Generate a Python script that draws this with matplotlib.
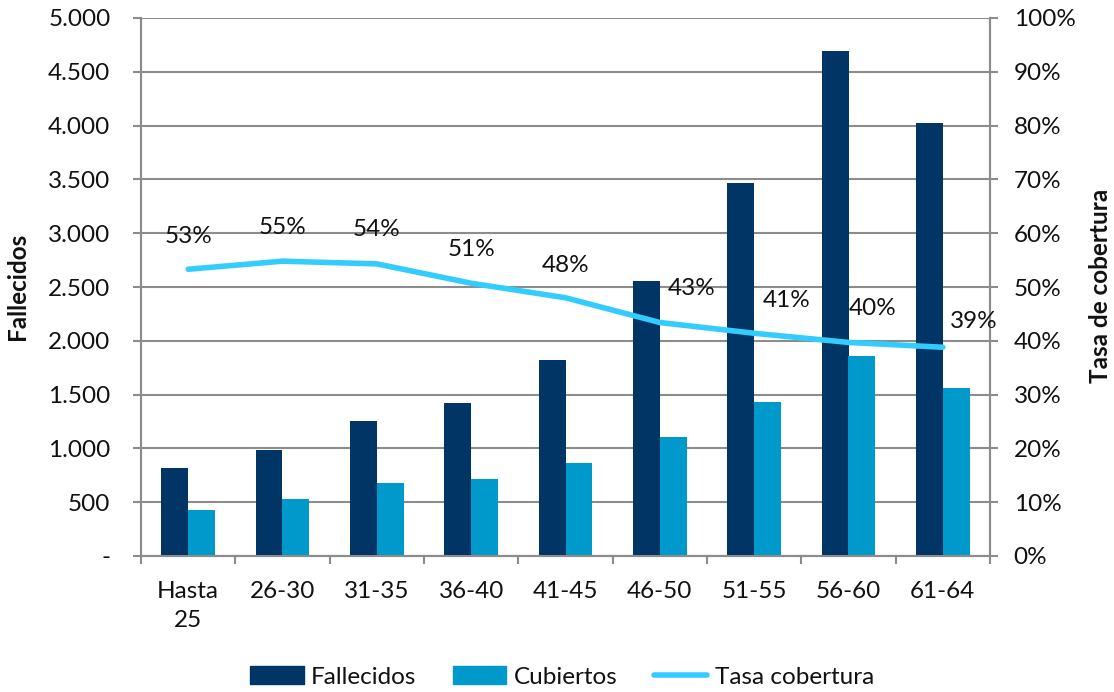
import matplotlib
matplotlib.use("Agg")
import matplotlib.pyplot as plt
from matplotlib.ticker import FuncFormatter, FixedLocator
from matplotlib.lines import Line2D
from matplotlib.patches import Patch
import numpy as np

categories = ["Hasta\n25", "26-30", "31-35", "36-40", "41-45", "46-50", "51-55", "56-60", "61-64"]
fallecidos = [815, 985, 1258, 1425, 1825, 2556, 3471, 4691, 4026]
cubiertos = [431, 533, 681, 719, 864, 1110, 1433, 1862, 1559]
tasa = [53.3, 54.8, 54.3, 50.7, 48.0, 43.4, 41.4, 39.7, 38.8]
left_ticks = [0, 500, 1000, 1500, 2000, 2500, 3000, 3500, 4000, 4500, 5000]
right_ticks = [0, 10, 20, 30, 40, 50, 60, 70, 80, 90, 100]

# label offsets (pixels) for each rate label
label_dx = [0, 0, 0, 0, 0, 32, 32, 24, 31]
label_dy = [33, 34, 34, 34, 32, 34, 33, 34, 26]

C_F = "#003566"
C_C = "#0099CC"
C_L = "#33CCFF"
GRID = "#8C8C8C"

plt.rcParams['font.family'] = ['Lato', 'DejaVu Sans']
FS = 17.5
TC = "#111111"

fig = plt.figure(figsize=(11.14, 6.92), dpi=100)
ax = fig.add_axes([141/1114, 1-556/692, (990-141)/1114, (556-18)/692])
ax2 = ax.twinx()

x = np.arange(len(categories))
w = 0.286
ax.bar(x - w/2, fallecidos, width=w, color=C_F, zorder=3, label="Fallecidos")
ax.bar(x + w/2, cubiertos, width=w, color=C_C, zorder=3, label="Cubiertos")

ax.set_xlim(-0.5, len(categories) - 0.5)
ax.set_ylim(0, 5000)
ax.yaxis.set_major_locator(FixedLocator(left_ticks))
def fmt_left(v, pos):
    if v == 0:
        return "-"
    return f"{int(v):,}".replace(",", ".")
ax.yaxis.set_major_formatter(FuncFormatter(fmt_left))
ax.grid(axis='y', color=GRID, linewidth=1.5, zorder=0)
ax.set_axisbelow(True)

ax.set_xticks(x)
ax.set_xticklabels(categories, fontsize=FS, linespacing=1.45, color=TC)
ax.set_xticks(np.arange(-0.5, len(categories) + 0.5, 1), minor=True)
ax.tick_params(axis='x', which='major', length=0, pad=18)
ax.tick_params(axis='x', which='minor', length=6, width=1.5, color=GRID, direction='out')
ax.tick_params(axis='y', length=6, width=1.5, color=GRID, labelsize=FS, pad=16, labelcolor=TC)

for s in ['top']:
    ax.spines[s].set_visible(False)
    ax2.spines[s].set_visible(False)
for a in (ax, ax2):
    for s in ['left', 'right', 'bottom']:
        a.spines[s].set_color(GRID)
        a.spines[s].set_linewidth(1.5)

ax2.plot(x, tasa, color=C_L, linewidth=4.0, solid_capstyle='round', zorder=4)
ax2.set_ylim(0, 100)
ax2.yaxis.set_major_locator(FixedLocator(right_ticks))
ax2.yaxis.set_major_formatter(FuncFormatter(lambda v, p: f"{int(v)}%"))
ax2.tick_params(axis='y', length=6, width=1.5, color=GRID, labelsize=FS, pad=11, labelcolor=TC)

for i, v in enumerate(tasa):
    ax2.annotate(f"{round(v)}%", (x[i], v), xytext=(label_dx[i]*0.72, label_dy[i]*0.72),
                 textcoords='offset points', ha='center', va='center', fontsize=FS, color=TC, zorder=5)

fig.text(18/1114, 1-286/692, "Fallecidos", rotation=90, ha='center', va='center',
         fontsize=FS, fontweight='bold', color=TC)
fig.text(1100/1114, 1-286/692, "Tasa de cobertura", rotation=90, ha='center', va='center',
         fontsize=FS, fontweight='bold', color=TC)

handles = [Patch(color=C_F, label="Fallecidos"), Patch(color=C_C, label="Cubiertos"),
           Line2D([0], [0], color=C_L, linewidth=4.0, solid_capstyle='round', label="Tasa cobertura")]
leg = fig.legend(handles=handles, loc='center', bbox_to_anchor=(562/1114, 1-677/692), ncol=3, frameon=False,
                 fontsize=FS, handlelength=2.2, handleheight=0.75, columnspacing=1.5, handletextpad=0.3)
for t in leg.get_texts():
    t.set_color(TC)

fig.savefig("out.png", dpi=100)
